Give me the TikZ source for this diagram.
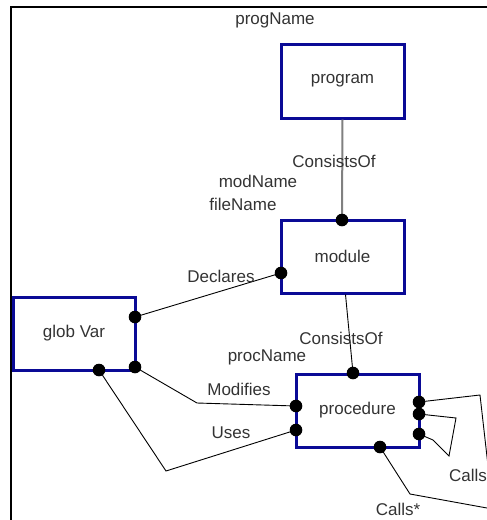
\documentclass[tikz,border=0pt]{standalone}
\usepackage{fontspec}
\setmainfont{Liberation Sans}
\usetikzlibrary{positioning, calc}
\definecolor{entblue}{RGB}{10,10,150}

\begin{document}
\begin{tikzpicture}[x=1pt,y=-1pt,
    entity/.style={draw=entblue, line width=3pt, minimum width=123pt, minimum height=73pt,
                   inner sep=0pt, font=\fontsize{17}{20}\selectfont, text=black!80},
    lbl/.style={font=\fontsize{17}{20}\selectfont, text=black!80, inner sep=0pt},
    rel/.style={line width=0.9pt},
    jdot/.style={fill=black}]
      \useasboundingbox (0,0) rectangle (487,520);
      \clip (0,0) rectangle (487,520);
      % frame
      \draw[line width=2.2pt] (11,520) -- (11,7) -- (487,7);
      % entities
      \node[entity, minimum height=74pt] (program) at (342.5,81) {program};
      \node[entity] (module) at (342.5,256.5) {module};
      \node[entity, minimum width=122pt] (globvar) at (74,333.5) {glob Var};
      \node[entity] (procedure) at (357.5,410.5) {procedure};
      % joints
      \coordinate (modT) at (342,220);
      \coordinate (modL) at (281,273);
      \coordinate (gvR1) at (135,317);
      \coordinate (gvR2) at (135,367);
      \coordinate (gvB) at (99,370);
      \coordinate (procT) at (353,373);
      \coordinate (procL1) at (296,406);
      \coordinate (procL2) at (296,430);
      \coordinate (procR1) at (419,402);
      \coordinate (procR2) at (419,414);
      \coordinate (procR3) at (419,434);
      \coordinate (procB) at (380,447);
      % relations
      \draw[line width=2pt, gray] (program.south) -- (modT);
      \draw[rel] (modL) -- (gvR1);
      \draw[rel] ($(module.south)+(3,0)$) -- (procT);
      \draw[rel] (gvR2) -- (197,403) -- (procL1);
      \draw[rel] (gvB) -- (166,471) -- (procL2);
      \draw[rel] (procR1) -- (480,395) -- (497,545);
      \draw[rel] (procR2) -- (456,418) -- (449,456) -- (433,440) -- (procR3);
      \draw[rel] (procB) -- (410,494) -- (520,514);
      \foreach \j in {modT,modL,gvR1,gvR2,gvB,procT,procL1,procL2,procR1,procR2,procR3,procB}
        \fill[jdot] (\j) circle[radius=6.3pt];
      % labels
      \node[lbl] (progName) at (275,20) {progName};
      \node[lbl] (consists1) at (334,161) {ConsistsOf};
      \node[lbl] (modName) at (258,181) {modName};
      \node[lbl] (fileName) at (243,204) {fileName};
      \node[lbl] (declares) at (221,276) {Declares};
      \node[lbl] (consists2) at (341,338) {ConsistsOf};
      \node[lbl] (procName) at (267,357) {procName};
      \node[lbl] (modifies) at (239,389) {Modifies};
      \node[lbl] (uses) at (231,433) {Uses};
      \node[lbl, anchor=west] (calls) at (449,475) {Calls};
      \node[lbl] (callsStar) at (398,509) {Calls*};
\end{tikzpicture}
\end{document}
